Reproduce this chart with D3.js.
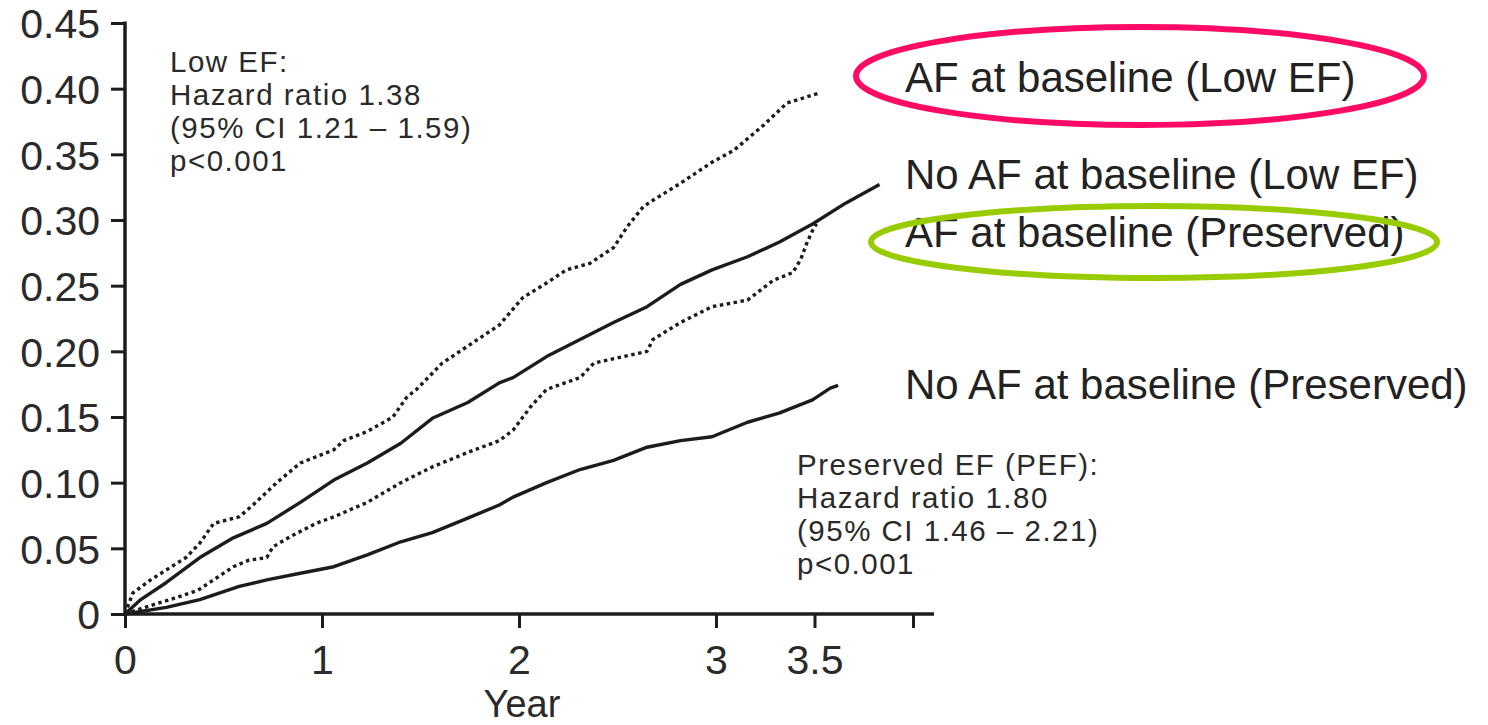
<!DOCTYPE html>
<html>
<head>
<meta charset="utf-8">
<script src="https://cdn.jsdelivr.net/npm/d3@7"></script>
<style>
  html, body { margin: 0; padding: 0; background: #fff; }
  svg { display: block; }
  text { font-family: "Liberation Sans", Arial, Helvetica, sans-serif; }
</style>
</head>
<body>
<svg id="chart" width="1488" height="725"></svg>
<script>
// ---- Data (years, cumulative incidence) ----
const afLowEF = [
  [0,0],[0.04,0.016],[0.13,0.026],[0.31,0.043],[0.38,0.054],[0.45,0.069],[0.58,0.074],
  [0.65,0.083],[0.77,0.100],[0.89,0.115],[1.06,0.125],[1.11,0.132],[1.23,0.139],[1.36,0.150],
  [1.43,0.165],[1.48,0.171],[1.61,0.191],[1.69,0.199],[1.90,0.220],[2.02,0.241],[2.14,0.252],
  [2.24,0.262],[2.36,0.267],[2.48,0.279],[2.55,0.295],[2.63,0.310],[2.68,0.315],[2.82,0.328],
  [2.98,0.344],[3.09,0.353],[3.24,0.372],[3.36,0.389],[3.53,0.397]
];
const noAfLowEF = [
  [0,0],[0.08,0.011],[0.21,0.024],[0.38,0.043],[0.55,0.058],[0.72,0.069],[0.89,0.085],
  [1.06,0.102],[1.23,0.115],[1.40,0.130],[1.56,0.149],[1.74,0.161],[1.90,0.176],[1.97,0.180],
  [2.14,0.196],[2.31,0.209],[2.48,0.222],[2.65,0.234],[2.82,0.251],[2.98,0.262],[3.16,0.272],
  [3.32,0.283],[3.49,0.297],[3.66,0.313],[3.83,0.327]
];
const afPreserved = [
  [0,0],[0.10,0.005],[0.25,0.012],[0.37,0.018],[0.47,0.028],[0.55,0.036],[0.63,0.041],
  [0.72,0.043],[0.75,0.051],[0.84,0.059],[0.97,0.069],[1.06,0.074],[1.23,0.085],[1.40,0.100],
  [1.56,0.112],[1.74,0.123],[1.90,0.132],[1.97,0.140],[2.06,0.158],[2.14,0.171],[2.31,0.180],
  [2.38,0.191],[2.56,0.197],[2.65,0.200],[2.68,0.209],[2.82,0.222],[2.98,0.234],[3.16,0.239],
  [3.29,0.254],[3.39,0.260],[3.43,0.270],[3.46,0.282],[3.49,0.292],[3.51,0.297]
];
const noAfPreserved = [
  [0,0],[0.21,0.005],[0.38,0.011],[0.58,0.021],[0.72,0.026],[0.89,0.031],[1.06,0.036],
  [1.23,0.045],[1.40,0.055],[1.56,0.062],[1.74,0.073],[1.90,0.083],[1.97,0.089],[2.14,0.100],
  [2.31,0.110],[2.48,0.117],[2.65,0.127],[2.82,0.132],[2.98,0.135],[3.16,0.146],[3.32,0.153],
  [3.49,0.163],[3.58,0.172],[3.62,0.174]
];

const yTicks = [0,0.05,0.10,0.15,0.20,0.25,0.30,0.35,0.40,0.45];
const yTickLabels = ["0","0.05","0.10","0.15","0.20","0.25","0.30","0.35","0.40","0.45"];
const xTicks = [0,1,2,3,3.5,4];
const xTickLabels = ["0","1","2","3","3.5",""];
const xTitle = "Year";

const seriesNames = [
  "AF at baseline (Low EF)",
  "No AF at baseline (Low EF)",
  "AF at baseline (Preserved)",
  "No AF at baseline (Preserved)"
];
const lowEFNote = ["Low EF:", "Hazard ratio 1.38", "(95% CI 1.21 \u2013 1.59)", "p<0.001"];
const pefNote = ["Preserved EF (PEF):", "Hazard ratio 1.80", "(95% CI 1.46 \u2013 2.21)", "p<0.001"];

// ---- Layout ----
const svg = d3.select("#chart");
const x = d3.scaleLinear().domain([0,4]).range([125, 913]);
const y = d3.scaleLinear().domain([0,0.45]).range([614, 23]);
const ink = "#1c1c1c";

// Y axis
const yAxis = d3.axisLeft(y)
  .tickValues(yTicks)
  .tickFormat((d,i) => yTickLabels[i])
  .tickSize(14).tickSizeOuter(0).tickPadding(11);
const gy = svg.append("g").attr("transform", `translate(${x(0)},0)`).call(yAxis);
gy.select(".domain").remove();
gy.selectAll(".tick line").attr("stroke", ink).attr("stroke-width", 3);
gy.selectAll(".tick text").attr("fill", "#2a2a2a").style("font-size", "41px")
  .attr("dy", "0.36em");

// X axis
const xAxis = d3.axisBottom(x)
  .tickValues(xTicks)
  .tickFormat((d,i) => xTickLabels[i])
  .tickSize(14).tickSizeOuter(0).tickPadding(17);
const gx = svg.append("g").attr("transform", `translate(0,${y(0)})`).call(xAxis);
gx.select(".domain").remove();
gx.selectAll(".tick line").attr("stroke", ink).attr("stroke-width", 3);
gx.selectAll(".tick text").attr("fill", "#2a2a2a").style("font-size", "41px");

// axis lines
svg.append("line").attr("x1", x(0)).attr("x2", x(4) + 21)
  .attr("y1", y(0)).attr("y2", y(0)).attr("stroke", ink).attr("stroke-width", 3.5);
svg.append("line").attr("x1", x(0)).attr("x2", x(0))
  .attr("y1", y(0.45) - 1.5).attr("y2", y(0)).attr("stroke", ink).attr("stroke-width", 3.5);

svg.append("text").attr("x", x(2) + 3).attr("y", 717)
  .attr("text-anchor", "middle").attr("fill", "#2a2a2a")
  .style("font-size", "38px").text(xTitle);

// Lines
const line = d3.line().x(d => x(d[0])).y(d => y(d[1])).curve(d3.curveLinear);
const lines = [
  {data: afLowEF, dotted: true},
  {data: noAfLowEF, dotted: false},
  {data: afPreserved, dotted: true},
  {data: noAfPreserved, dotted: false}
];
svg.append("g").selectAll("path").data(lines).join("path")
  .attr("d", d => line(d.data))
  .attr("fill", "none")
  .attr("stroke", ink)
  .attr("stroke-width", 3.4)
  .attr("stroke-dasharray", d => d.dotted ? "3.5,3.5" : null)
  .attr("stroke-linejoin", "round");

// Series labels
const labelBaselines = [92, 189, 247, 399];
svg.append("g").selectAll("text").data(seriesNames).join("text")
  .attr("x", 905).attr("y", (d,i) => labelBaselines[i])
  .attr("fill", "#222").style("font-size", "42px")
  .text(d => d);

// Highlight ellipses
svg.append("ellipse").attr("cx", 1140).attr("cy", 76).attr("rx", 284).attr("ry", 49)
  .attr("fill", "none").attr("stroke", "#ff0a64").attr("stroke-width", 6);
svg.append("ellipse").attr("cx", 1154).attr("cy", 242).attr("rx", 283).attr("ry", 36)
  .attr("fill", "none").attr("stroke", "#99cc00").attr("stroke-width", 6);

// Annotations
svg.append("g").selectAll("text").data(lowEFNote).join("text")
  .attr("x", 170).attr("y", (d,i) => 72 + i * 33)
  .attr("fill", "#2a2a2a").style("font-size", "29.5px").style("letter-spacing", "1.5px")
  .text(d => d);
svg.append("g").selectAll("text").data(pefNote).join("text")
  .attr("x", 797).attr("y", (d,i) => 475 + i * 33)
  .attr("fill", "#2a2a2a").style("font-size", "29.5px").style("letter-spacing", "1.5px")
  .text(d => d);
</script>
</body>
</html>
